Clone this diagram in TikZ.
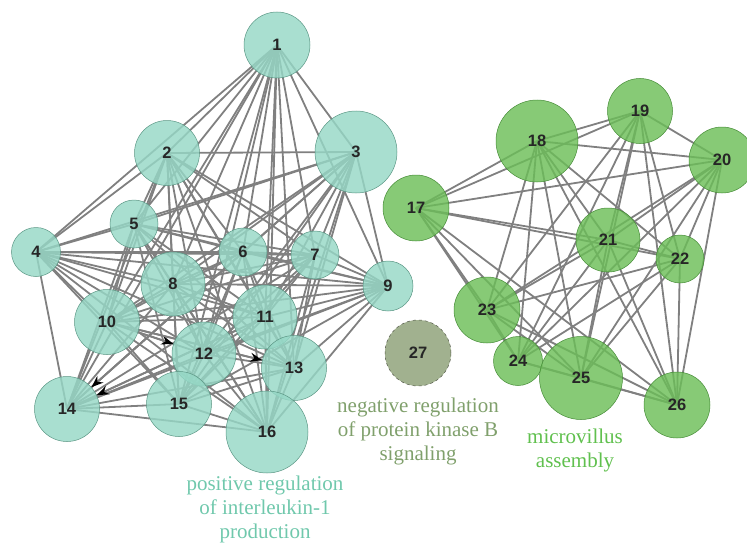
\documentclass[tikz,border=0pt]{standalone}
\usepackage{fontspec}
\newfontfamily\numfont{Liberation Sans}
\newfontfamily\lblfont{Liberation Serif}
\usetikzlibrary{arrows.meta}
\pgfdeclarelayer{background}
\pgfsetlayers{background,main}
\definecolor{tealfill}{RGB}{150,216,198}
\definecolor{tealdraw}{RGB}{90,150,132}
\definecolor{grnfill}{RGB}{108,190,88}
\definecolor{grndraw}{RGB}{70,140,55}
\definecolor{olvfill}{RGB}{140,160,118}
\definecolor{olvdraw}{RGB}{85,90,75}
\definecolor{edgegray}{RGB}{128,128,128}
\definecolor{teallabel}{RGB}{112,200,172}
\definecolor{olvlabel}{RGB}{128,160,108}
\definecolor{grnlabel}{RGB}{96,192,78}
\tikzset{
  gnode/.style={circle, inner sep=0pt, fill opacity=0.82, text opacity=1,
    font=\numfont\bfseries\fontsize{16.5}{16.5}\selectfont, text=black!85, line width=0.5pt},
  tealnode/.style={gnode, fill=tealfill, draw=tealdraw},
  grnnode/.style={gnode, fill=grnfill, draw=grndraw},
  olvnode/.style={gnode, fill=olvfill, draw=olvdraw},
  edge/.style={draw=edgegray, line width=1.8pt},
  arrowedge/.style={edge, -{Stealth[length=12pt,width=9pt,black]}},
  lbl/.style={align=center, font=\lblfont\fontsize{21}{24}\selectfont}
}
\begin{document}
\begin{tikzpicture}[x=1pt,y=-1pt]
\useasboundingbox (0,0) rectangle (747,543);
% left cluster
\node[tealnode, minimum size=66pt] (n1) at (277,45) {1};
\node[tealnode, minimum size=65pt] (n2) at (167,153) {2};
\node[tealnode, minimum size=82pt] (n3) at (356,152) {3};
\node[tealnode, minimum size=49pt] (n4) at (36,252) {4};
\node[tealnode, minimum size=48pt] (n5) at (134,224) {5};
\node[tealnode, minimum size=48pt] (n6) at (243,252) {6};
\node[tealnode, minimum size=48pt] (n7) at (315,255) {7};
\node[tealnode, minimum size=64pt] (n8) at (173,284) {8};
\node[tealnode, minimum size=50pt] (n9) at (388,286) {9};
\node[tealnode, minimum size=65pt] (n10) at (107,322) {10};
\node[tealnode, minimum size=64pt] (n11) at (265,317) {11};
\node[tealnode, minimum size=64pt] (n12) at (204,354) {12};
\node[tealnode, minimum size=65pt] (n13) at (294,368) {13};
\node[tealnode, minimum size=65pt] (n14) at (67,409) {14};
\node[tealnode, minimum size=65pt] (n15) at (179,404) {15};
\node[tealnode, minimum size=82pt] (n16) at (267,432) {16};
% right cluster
\node[grnnode, minimum size=66pt] (n17) at (416,208) {17};
\node[grnnode, minimum size=82pt] (n18) at (537,141) {18};
\node[grnnode, minimum size=65pt] (n19) at (640,111) {19};
\node[grnnode, minimum size=66pt] (n20) at (722,160) {20};
\node[grnnode, minimum size=64pt] (n21) at (608,240) {21};
\node[grnnode, minimum size=48pt] (n22) at (680,259) {22};
\node[grnnode, minimum size=66pt] (n23) at (487,310) {23};
\node[grnnode, minimum size=49pt] (n24) at (518,361) {24};
\node[grnnode, minimum size=83pt] (n25) at (581,378) {25};
\node[grnnode, minimum size=66pt] (n26) at (677,405) {26};
% isolated
\node[olvnode, minimum size=66pt, dashed] (n27) at (418,353) {27};
% labels
\node[lbl, text=teallabel] (l1) at (265,509) {positive regulation\\of interleukin-1\\production};
\node[lbl, text=olvlabel] (l2) at (418,431) {negative regulation\\of protein kinase B\\signaling};
\node[lbl, text=grnlabel] (l3) at (575,450) {microvillus\\assembly};
\begin{pgfonlayer}{background}
\foreach \a in {1,...,15}{
  \pgfmathtruncatemacro\s{\a+1}
  \foreach \b in {\s,...,16}{
    \draw[edge] (n\a.center) -- (n\b.center);
  }
}
\foreach \a in {17,...,25}{
  \pgfmathtruncatemacro\s{\a+1}
  \foreach \b in {\s,...,26}{
    \draw[edge] (n\a.center) -- (n\b.center);
  }
}
\draw[arrowedge] (n6) -- (n14);
\draw[arrowedge] (n11) -- (n14);
\draw[arrowedge] (n10) -- (n12);
\draw[arrowedge] (n10) -- (n13);
\end{pgfonlayer}
\end{tikzpicture}
\end{document}
